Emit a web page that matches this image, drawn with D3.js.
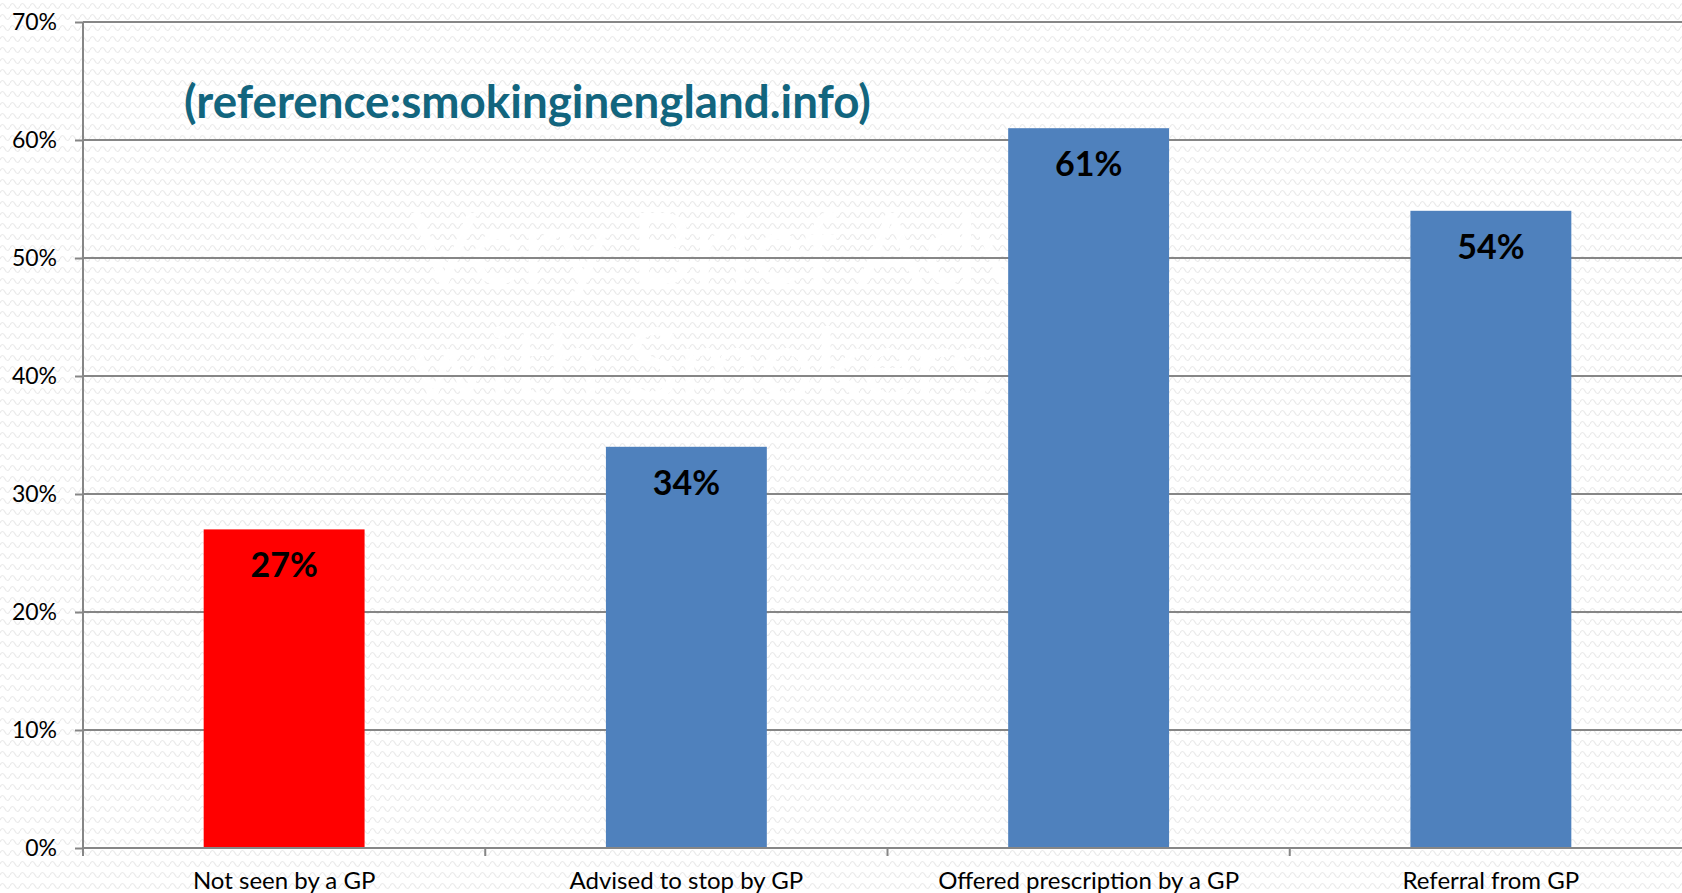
<!DOCTYPE html>
<html>
<head>
<meta charset="utf-8" />
<script src="https://cdn.jsdelivr.net/npm/d3@7/dist/d3.min.js"></script>
<style>
  body { margin: 0; background: #fff; }
  text { font-family: Lato, "Open Sans", sans-serif; }
</style>
</head>
<body>
<svg id="chart" width="1682" height="893"></svg>
<script>
// values
var categories = ["Not seen by a GP", "Advised to stop by GP", "Offered prescription by a GP", "Referral from GP"];
var values = [0.27, 0.34, 0.61, 0.54];
var barColors = ["#ff0000", "#4f81bd", "#4f81bd", "#4f81bd"];
var yTicks = [0, 0.1, 0.2, 0.3, 0.4, 0.5, 0.6, 0.7];
var titleText = "(reference:smokinginengland.info)";
var watermark = ["Very Brief Advice", "with Smokers"];

var svg = d3.select("#chart"),
    width = +svg.attr("width"),
    height = +svg.attr("height");

var plotLeft = 83, plotTop = 22, plotBottom = 848, plotRight = 1692;

var x = d3.scaleBand()
    .domain(categories)
    .range([plotLeft, plotRight])
    .paddingInner(0.6)
    .paddingOuter(0.3);

var y = d3.scaleLinear()
    .domain([0, 0.7])
    .range([plotBottom, plotTop]);

// wavy background texture
var defs = svg.append("defs");
var pat = defs.append("pattern")
    .attr("id", "waves")
    .attr("patternUnits", "userSpaceOnUse")
    .attr("width", 10)
    .attr("height", 11);
pat.append("rect").attr("width", 10).attr("height", 11).attr("fill", "#ffffff");
pat.append("path")
    .attr("d", "M0,6 Q2.5,1 5,6 T10,6")
    .attr("fill", "none")
    .attr("stroke", "#eaeaea")
    .attr("stroke-width", 1.2);

svg.append("rect")
    .attr("width", width)
    .attr("height", height)
    .attr("fill", "url(#waves)");

// faint watermark behind everything
svg.append("g")
    .selectAll("text")
    .data(watermark)
    .enter().append("text")
    .attr("x", 411)
    .attr("y", function(d, i) { return 284 + i * 115; })
    .attr("font-size", 98)
    .attr("fill", "#ffffff")
    .text(function(d) { return d; });

// gridlines
svg.append("g")
    .selectAll("line")
    .data(yTicks.slice(1))
    .enter().append("line")
    .attr("x1", plotLeft)
    .attr("x2", width)
    .attr("y1", function(d) { return y(d); })
    .attr("y2", function(d) { return y(d); })
    .attr("stroke", "#868686")
    .attr("stroke-width", 2);

// y axis
var yAxis = svg.append("g")
    .attr("transform", "translate(" + plotLeft + ",0)")
    .call(d3.axisLeft(y).tickValues(yTicks).tickFormat(d3.format(".0%")).tickSize(8).tickPadding(18));
yAxis.select(".domain").remove();
yAxis.selectAll(".tick line").attr("stroke", "#868686").attr("stroke-width", 2);
yAxis.selectAll(".tick text")
    .attr("font-family", "Lato, sans-serif")
    .attr("font-size", 23)
    .attr("fill", "#000");

svg.append("line")
    .attr("x1", plotLeft).attr("x2", plotLeft)
    .attr("y1", plotTop).attr("y2", plotBottom + 8)
    .attr("stroke", "#868686")
    .attr("stroke-width", 2);

// bars
svg.append("g")
    .selectAll("rect")
    .data(categories)
    .enter().append("rect")
    .attr("x", function(d) { return x(d); })
    .attr("width", x.bandwidth())
    .attr("y", function(d, i) { return y(values[i]); })
    .attr("height", function(d, i) { return plotBottom - y(values[i]); })
    .attr("fill", function(d, i) { return barColors[i]; });

// x axis baseline and ticks between categories
svg.append("line")
    .attr("x1", plotLeft).attr("x2", width)
    .attr("y1", plotBottom).attr("y2", plotBottom)
    .attr("stroke", "#868686")
    .attr("stroke-width", 2);

svg.append("g")
    .selectAll("line")
    .data(categories)
    .enter().append("line")
    .attr("x1", function(d) { return x(d) - x.step() * 0.3; })
    .attr("x2", function(d) { return x(d) - x.step() * 0.3; })
    .attr("y1", plotBottom)
    .attr("y2", plotBottom + 8)
    .attr("stroke", "#868686")
    .attr("stroke-width", 2);

// category labels
svg.append("g")
    .selectAll("text")
    .data(categories)
    .enter().append("text")
    .attr("x", function(d) { return x(d) + x.bandwidth() / 2; })
    .attr("y", 889)
    .attr("text-anchor", "middle")
    .attr("font-size", 24)
    .attr("fill", "#000")
    .text(function(d) { return d; });

// value labels inside bars
svg.append("g")
    .selectAll("text")
    .data(categories)
    .enter().append("text")
    .attr("x", function(d) { return x(d) + x.bandwidth() / 2; })
    .attr("y", function(d, i) { return y(values[i]) + 48; })
    .attr("text-anchor", "middle")
    .attr("font-size", 34)
    .attr("font-weight", "bold")
    .attr("fill", "#000")
    .text(function(d, i) { return d3.format(".0%")(values[i]); });

// source note
svg.append("text")
    .attr("x", 184)
    .attr("y", 118)
    .attr("font-size", 45.7)
    .attr("font-weight", "bold")
    .attr("fill", "#12657e")
    .text(titleText);
</script>
</body>
</html>
